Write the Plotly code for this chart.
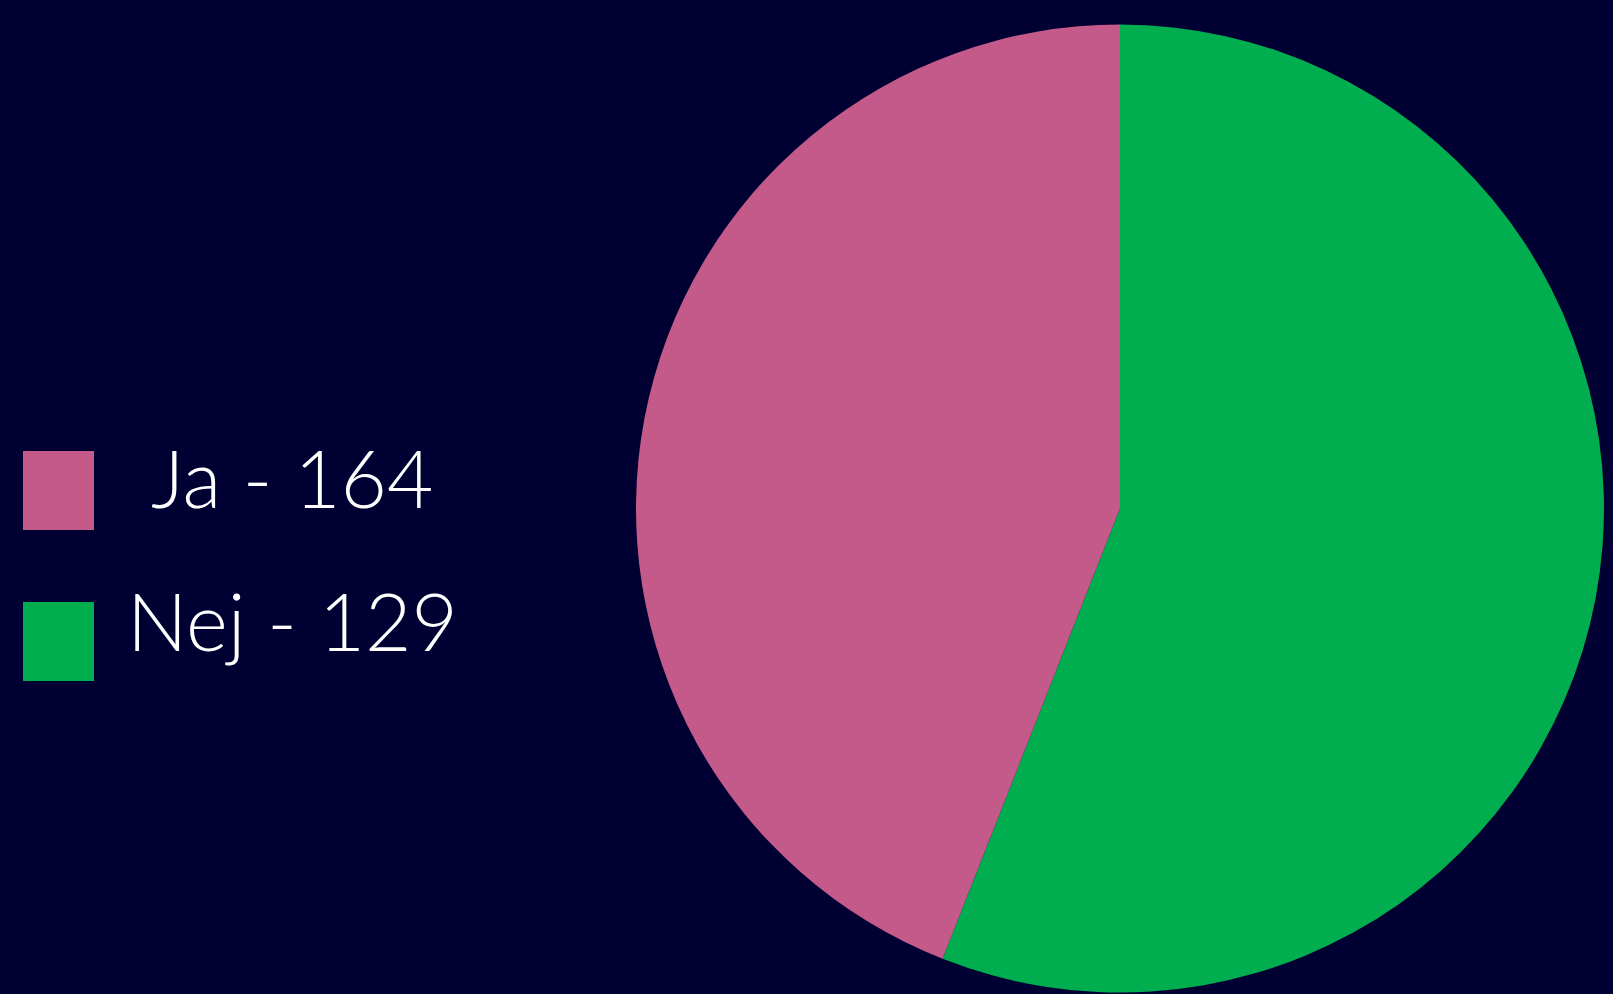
import plotly.graph_objects as go

# Legend entries as printed in the reference
answers = ["Ja", "Nej"]
answer_counts = [164, 129]
# Slice sizes as drawn in the reference (pink share ~44 %, green share ~56 %)
slice_sizes = [129, 164]
slice_colors = ["#C45A89", "#00AE4F"]

W, H = 1613, 994
BG = "#000033"

legend_labels = [f"{a} - {c}" for a, c in zip(answers, answer_counts)]

fig = go.Figure()
# Slices drawn clockwise from 12 o'clock: green first, then pink
fig.add_trace(go.Pie(
    labels=legend_labels[::-1],
    values=slice_sizes[::-1],
    marker=dict(colors=slice_colors[::-1], line=dict(width=0)),
    sort=False,
    direction="clockwise",
    rotation=0,
    textinfo="none",
    hoverinfo="label",
    showlegend=False,
    domain=dict(x=[(1120 - 484) / W, (1120 + 484) / W],
                y=[(H - 992.5) / H, (H - 24.5) / H]),
))

# Hand-drawn legend (large swatches and text)
sw_x0, sw_x1 = 23, 94
sw_tops = [451, 602]
sw_h = 79
text_cy = [477, 620]
shapes = []
annotations = []
for i, (lab, col) in enumerate(zip(legend_labels, slice_colors)):
    shapes.append(dict(
        type="rect", xref="paper", yref="paper",
        x0=sw_x0 / W, x1=sw_x1 / W,
        y0=(H - sw_tops[i] - sw_h) / H, y1=(H - sw_tops[i]) / H,
        fillcolor=col, line=dict(width=0), layer="above",
    ))
    annotations.append(dict(
        text=lab, xref="paper", yref="paper",
        x=292 / W, y=(H - text_cy[i]) / H,
        xanchor="center", yanchor="middle", showarrow=False,
        font=dict(family="Lato", size=80, color="#FFFFFF", weight=300),
    ))

fig.update_layout(
    width=W, height=H,
    margin=dict(l=0, r=0, t=0, b=0),
    paper_bgcolor=BG, plot_bgcolor=BG,
    shapes=shapes, annotations=annotations,
)

fig.write_html(
    "out.html",
    config={"displayModeBar": False},
    post_script="document.body.style.margin='0';document.body.style.background='#000033';",
)
